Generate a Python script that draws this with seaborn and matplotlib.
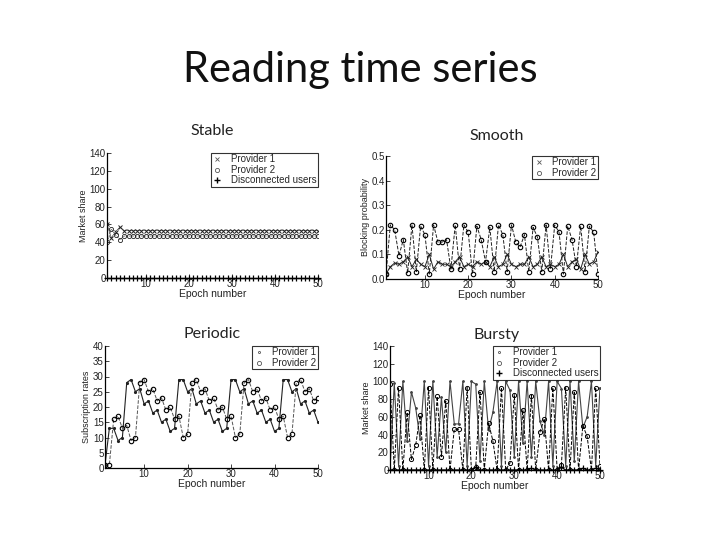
import pandas as pd
import matplotlib
matplotlib.use('Agg')
import matplotlib.pyplot as plt
from matplotlib.lines import Line2D
import seaborn as sns

# epochs for every panel
epochs = list(range(1, 51))

# Stable panel (market share)
stable_p1 = [60, 45, 52, 57, 53, 53, 53, 53, 53, 53, 53, 53, 53, 53, 53, 53, 53, 53, 53, 53,
             53, 53, 53, 53, 53, 53, 53, 53, 53, 53, 53, 53, 53, 53, 53, 53, 53, 53, 53, 53,
             53, 53, 53, 53, 53, 53, 53, 53, 53, 53]
stable_p2 = [40, 55, 48, 43, 47, 47, 47, 47, 47, 47, 47, 47, 47, 47, 47, 47, 47, 47, 47, 47,
             47, 47, 47, 47, 47, 47, 47, 47, 47, 47, 47, 47, 47, 47, 47, 47, 47, 47, 47, 47,
             47, 47, 47, 47, 47, 47, 47, 47, 47, 47]
stable_disc = [0, 0, 0, 0, 0, 0, 0, 0, 0, 0, 0, 0, 0, 0, 0, 0, 0, 0, 0, 0,
               0, 0, 0, 0, 0, 0, 0, 0, 0, 0, 0, 0, 0, 0, 0, 0, 0, 0, 0, 0,
               0, 0, 0, 0, 0, 0, 0, 0, 0, 0]

# Smooth panel (blocking probability)
smooth_p1 = [0.02, 0.05, 0.065, 0.06, 0.07, 0.09, 0.05, 0.08, 0.06, 0.05,
             0.10, 0.04, 0.07, 0.06, 0.06, 0.05, 0.07, 0.09, 0.05, 0.06,
             0.05, 0.07, 0.06, 0.07, 0.05, 0.09, 0.05, 0.06, 0.10, 0.06,
             0.05, 0.06, 0.06, 0.09, 0.05, 0.06, 0.09, 0.05, 0.06, 0.05,
             0.06, 0.10, 0.05, 0.07, 0.08, 0.04, 0.10, 0.06, 0.07, 0.11]
smooth_p2 = [0.02, 0.22, 0.20, 0.095, 0.16, 0.025, 0.22, 0.03, 0.215, 0.18,
             0.02, 0.22, 0.15, 0.15, 0.16, 0.04, 0.22, 0.04, 0.22, 0.19,
             0.02, 0.215, 0.16, 0.07, 0.21, 0.03, 0.22, 0.18, 0.03, 0.22,
             0.15, 0.13, 0.18, 0.03, 0.21, 0.17, 0.03, 0.22, 0.04, 0.22,
             0.19, 0.02, 0.215, 0.16, 0.05, 0.215, 0.03, 0.215, 0.19, 0.02]

# Periodic panel (subscription rates)
periodic_p1 = [1, 13, 13, 9, 10, 28, 29, 25, 26, 21, 22, 18, 19, 15, 16, 12, 13,
               29, 29, 25, 26, 21, 22, 18, 19, 15, 16, 12, 13,
               29, 29, 25, 26, 21, 22, 18, 19, 15, 16, 12, 13,
               29, 29, 25, 26, 21, 22, 18, 19, 15]
periodic_p2 = [1, 1, 16, 17, 13, 14, 9, 10,
               28, 29, 25, 26, 22, 23, 19, 20, 16, 17, 10, 11,
               28, 29, 25, 26, 22, 23, 19, 20, 16, 17, 10, 11,
               28, 29, 25, 26, 22, 23, 19, 20, 16, 17, 10, 11,
               28, 29, 25, 26, 22, 23]

# Bursty panel (market share)
bursty_p1 = [0, 98, 5, 100, 33, 88, 70, 35, 100, 5, 100, 15, 82, 20, 100, 52, 52, 100, 5, 100,
             97, 10, 100, 45, 65, 100, 5, 100, 90, 15, 100, 30, 100, 15, 100, 55, 40, 100, 5, 100,
             92, 5, 100, 10, 100, 48, 60, 100, 5, 93]
bursty_p2 = [97, 0, 93, 0, 65, 12, 28, 62, 0, 93, 0, 83, 15, 78, 0, 46, 46, 0, 93, 0,
             3, 88, 0, 53, 33, 0, 93, 0, 8, 85, 0, 68, 0, 84, 0, 43, 58, 0, 93, 0,
             6, 93, 0, 88, 0, 50, 38, 0, 93, 5]
bursty_disc = [0, 0, 0, 0, 0, 0, 0, 0, 0, 0, 0, 0, 0, 0, 0, 0, 0, 0, 0, 0,
               3, 0, 0, 0, 0, 0, 0, 0, 0, 0, 0, 0, 0, 2, 0, 0, 0, 0, 0, 0,
               3, 0, 0, 0, 0, 2, 0, 0, 2, 0]

sns.set_style("ticks")
plt.rcParams['font.family'] = ['Liberation Sans', 'DejaVu Sans']

fig = plt.figure(figsize=(7.2, 5.4), dpi=100)
fig.patch.set_facecolor('white')

fig.text(0.5, 1 - 70 / 540, 'Reading time series', ha='center', va='center',
         fontsize=30, family=['Lato', 'DejaVu Sans'], color='#111111')

dark = '#222222'
gray = '#555555'


def style_axis(ax, ylim, yticks, ylabel):
    ax.set_xlim(1, 50)
    ax.set_ylim(*ylim)
    ax.set_xticks([10, 20, 30, 40, 50])
    ax.set_yticks(yticks)
    ax.set_xlabel('Epoch number', fontsize=7.5, labelpad=0, color=dark)
    ax.set_ylabel(ylabel, fontsize=6.5, labelpad=1, color=dark)
    ax.tick_params(direction='in', length=3, width=0.6, labelsize=7, pad=1, colors=dark)
    sns.despine(ax=ax)
    for s in ['left', 'bottom']:
        ax.spines[s].set_linewidth(0.9)
        ax.spines[s].set_color('black')


def add_legend(ax, entries):
    handles = [Line2D([], [], linestyle='none', marker=m, markersize=ms, color=c,
                      markerfacecolor='none', markeredgecolor=c, markeredgewidth=mew)
               for (m, ms, c, mew) in entries[1]]
    leg = ax.legend(handles, entries[0], loc='upper right', fontsize=7, frameon=True,
                    fancybox=False, handlelength=1.0, borderpad=0.15, labelspacing=0.05,
                    borderaxespad=0.0, handletextpad=0.9)
    leg.get_frame().set_edgecolor('black')
    leg.get_frame().set_linewidth(0.8)


# Stable
ax1 = fig.add_axes([107 / 720, 1 - 278 / 540, 211 / 720, 125 / 540])
sns.lineplot(x=epochs, y=stable_p1, ax=ax1, color=dark, marker='x', markersize=3.2,
             linewidth=0.4, markeredgecolor=dark, markeredgewidth=0.7, legend=False)
sns.lineplot(x=epochs, y=stable_p2, ax=ax1, color=dark, marker='o', markersize=3,
             linewidth=0.4, linestyle='--', markerfacecolor='none', markeredgecolor=dark,
             markeredgewidth=0.6, legend=False)
sns.lineplot(x=epochs, y=stable_disc, ax=ax1, color='black', marker='+', markersize=5,
             linewidth=0.8, markeredgecolor='black', markeredgewidth=0.9, clip_on=False,
             legend=False)
style_axis(ax1, (0, 140), [0, 20, 40, 60, 80, 100, 120, 140], 'Market share')
add_legend(ax1, (['Provider 1', 'Provider 2', 'Disconnected users'],
                 [('x', 3, gray, 0.6), ('o', 3, gray, 0.6), ('+', 4, 'black', 1.0)]))

# Smooth
ax2 = fig.add_axes([386 / 720, 1 - 279 / 540, 212 / 720, 123 / 540])
sns.lineplot(x=epochs, y=smooth_p1, ax=ax2, color=dark, marker='x', markersize=2.5,
             linewidth=0.7, markeredgecolor=dark, markeredgewidth=0.6, legend=False)
sns.lineplot(x=epochs, y=smooth_p2, ax=ax2, color=dark, marker='o', markersize=3.2,
             linewidth=0.7, linestyle='--', markerfacecolor='none', markeredgecolor='black',
             markeredgewidth=0.8, legend=False)
style_axis(ax2, (0, 0.5), [0, 0.1, 0.2, 0.3, 0.4, 0.5], 'Blocking probability')
add_legend(ax2, (['Provider 1', 'Provider 2'],
                 [('x', 3, gray, 0.6), ('o', 3, gray, 0.6)]))

# Periodic
ax3 = fig.add_axes([105 / 720, 1 - 468 / 540, 213 / 720, 122 / 540])
sns.lineplot(x=epochs, y=periodic_p1, ax=ax3, color=dark, marker='.', markersize=3,
             linewidth=0.8, markeredgecolor=dark, legend=False)
sns.lineplot(x=epochs, y=periodic_p2, ax=ax3, color=gray, marker='o', markersize=3.2,
             linewidth=0.7, linestyle='--', markerfacecolor='none', markeredgecolor='black',
             markeredgewidth=0.8, legend=False)
style_axis(ax3, (0, 40), [0, 5, 10, 15, 20, 25, 30, 35, 40], 'Subscription rates')
add_legend(ax3, (['Provider 1', 'Provider 2'],
                 [('.', 3, gray, 0.6), ('o', 3, gray, 0.6)]))

# Bursty
ax4 = fig.add_axes([390 / 720, 1 - 470 / 540, 210 / 720, 124 / 540])
sns.lineplot(x=epochs, y=bursty_p1, ax=ax4, color='#444444', marker='.', markersize=2.5,
             linewidth=0.8, markeredgecolor='#444444', legend=False)
sns.lineplot(x=epochs, y=bursty_p2, ax=ax4, color='black', marker='o', markersize=3,
             linewidth=0.7, linestyle='--', markerfacecolor='none', markeredgecolor='black',
             markeredgewidth=0.7, legend=False)
sns.lineplot(x=epochs, y=bursty_disc, ax=ax4, color='black', marker='+', markersize=4,
             linewidth=0.9, markeredgecolor='black', markeredgewidth=0.9, clip_on=False,
             legend=False)
style_axis(ax4, (0, 140), [0, 20, 40, 60, 80, 100, 120, 140], 'Market share')
add_legend(ax4, (['Provider 1', 'Provider 2', 'Disconnected users'],
                 [('.', 3, gray, 0.6), ('o', 3, gray, 0.6), ('+', 4, 'black', 1.0)]))

# slide-style panel captions
cap = dict(ha='center', va='center', fontsize=11.5, family=['Lato', 'DejaVu Sans'], color='#222222')
fig.text(212 / 720, 1 - 131 / 540, 'Stable', **cap)
fig.text(497 / 720, 1 - 136 / 540, 'Smooth', **cap)
fig.text(212 / 720, 1 - 334 / 540, 'Periodic', **cap)
fig.text(497 / 720, 1 - 335 / 540, 'Bursty', **cap)

fig.savefig('out.png', dpi=100, facecolor='white')
